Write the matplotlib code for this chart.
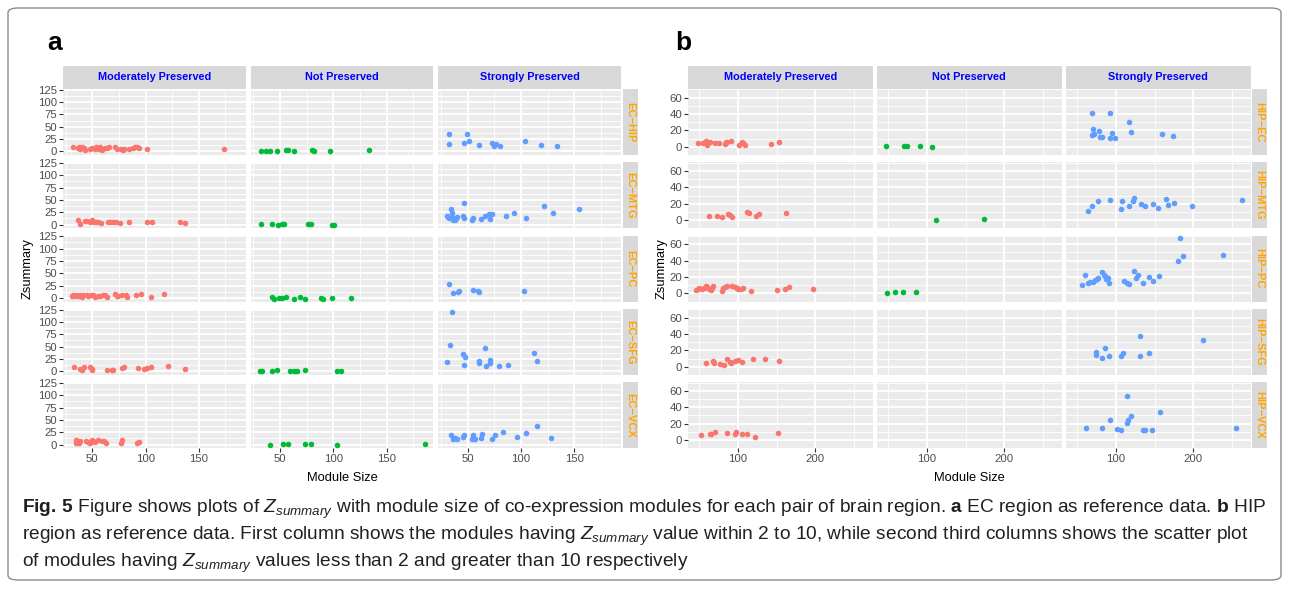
import matplotlib
matplotlib.use("Agg")
import matplotlib.pyplot as plt
from matplotlib import font_manager as fm
from matplotlib.patches import FancyBboxPatch

# ---------------- data ----------------
CATEGORIES = ["Moderately Preserved", "Not Preserved", "Strongly Preserved"]
CAT_COLORS = ["#F8766D", "#00BA38", "#619CFF"]
A_PAIRS = ["EC\u2212HIP", "EC\u2212MTG", "EC\u2212PC", "EC\u2212SFG", "EC\u2212VCX"]
B_PAIRS = ["HIP\u2212EC", "HIP\u2212MTG", "HIP\u2212PC", "HIP\u2212SFG", "HIP\u2212VCX"]
A_YTICKS = [0, 25, 50, 75, 100, 125]
A_XTICKS = [50, 100, 150]
B_YTICKS = [0, 20, 40, 60]
B_XTICKS = [100, 200]

# ---- panel a : EC as reference ----
a_hip_mod_x = [31.7, 36.1, 37.4, 38.6, 40.5, 41.8, 43.1, 47.8, 49.4, 52.5, 53.8, 55.0, 56.3, 57.6, 58.8, 62.0, 63.9, 65.8, 71.5, 73.3, 76.5, 78.4, 79.7, 84.7, 87.9, 89.7, 91.6, 94.2, 101.7, 173.7]
a_hip_mod_y = [8.0, 6.6, 9.3, 5.3, 8.6, 6.6, 2.7, 4.7, 6.6, 4.7, 9.3, 6.6, 4.7, 8.0, 3.3, 6.6, 6.6, 8.0, 8.0, 5.3, 5.3, 2.7, 4.0, 4.7, 6.6, 9.3, 9.3, 6.6, 5.3, 4.0]
a_hip_not_x = [32.1, 37.1, 40.9, 47.2, 55.3, 57.9, 62.9, 79.9, 81.8, 96.9, 133.3]
a_hip_not_y = [0.0, 0.7, 0.7, 1.3, 2.0, 2.0, 1.3, 2.0, 1.3, 1.3, 2.7]
a_hip_str_x = [32.1, 49.1, 32.1, 46.5, 50.9, 61.0, 72.3, 74.2, 76.7, 79.9, 103.8, 118.9, 134.0]
a_hip_str_y = [34.6, 35.2, 14.6, 16.0, 20.0, 12.0, 17.3, 10.6, 14.6, 10.6, 20.6, 12.6, 10.6]

a_mtg_mod_x = [36.8, 38.1, 43.1, 45.0, 48.1, 49.4, 51.3, 53.2, 55.7, 58.2, 64.5, 67.0, 68.9, 72.1, 75.9, 84.7, 101.1, 105.8, 132.0, 136.8]
a_mtg_mod_y = [10.0, 2.0, 6.6, 7.3, 4.7, 8.6, 6.0, 6.0, 4.7, 3.3, 4.7, 6.0, 6.0, 6.0, 4.0, 6.0, 4.7, 6.0, 4.7, 3.3]
a_mtg_not_x = [32.1, 42.1, 47.8, 52.2, 54.1, 76.1, 79.2, 98.7, 100.6]
a_mtg_not_y = [0.7, 2.0, -0.7, 2.0, 2.0, 0.7, 2.0, -0.7, -0.7]
a_mtg_str_x = [30.2, 31.4, 32.7, 34.0, 34.6, 35.2, 35.8, 37.1, 37.7, 39.0, 40.3, 45.3, 46.5, 46.5, 54.1, 55.3, 62.3, 66.0, 69.8, 70.4, 72.3, 86.2, 93.7, 105.0, 122.0, 130.2, 154.1]
a_mtg_str_y = [18.0, 15.3, 14.0, 31.3, 12.6, 24.6, 10.0, 14.0, 8.6, 12.6, 15.3, 18.0, 14.0, 44.5, 10.0, 14.0, 11.3, 16.6, 21.9, 11.3, 20.6, 16.6, 24.6, 14.0, 37.9, 24.6, 31.9]

a_pc_mod_x = [30.4, 31.7, 33.0, 34.9, 36.8, 38.6, 39.9, 41.2, 45.0, 46.2, 48.7, 50.6, 52.5, 55.0, 56.9, 60.1, 62.0, 63.9, 70.8, 72.7, 74.0, 77.8, 81.5, 82.2, 91.0, 96.1, 104.9, 116.9]
a_pc_mod_y = [4.0, 6.6, 4.0, 5.3, 4.0, 5.3, 2.7, 5.3, 6.6, 4.0, 5.3, 6.6, 2.7, 4.0, 4.0, 6.6, 5.3, 2.0, 8.0, 4.0, 4.0, 6.6, 5.3, 2.0, 5.3, 8.0, 2.7, 8.0]
a_pc_not_x = [42.1, 44.7, 49.1, 52.2, 55.3, 62.9, 68.6, 73.0, 88.7, 90.6, 98.7, 116.4]
a_pc_not_y = [1.3, -1.3, 0.7, 0.0, 1.3, -1.3, 1.3, -1.3, 0.0, -1.3, 0.7, 0.7]
a_pc_str_x = [32.1, 36.5, 40.9, 42.1, 55.3, 59.7, 61.0, 103.1]
a_pc_str_y = [27.3, 9.3, 12.0, 13.3, 16.6, 14.6, 12.0, 13.3]

a_sfg_mod_x = [33.0, 38.6, 39.9, 41.8, 47.5, 49.4, 50.0, 63.9, 68.3, 68.9, 77.8, 79.7, 92.9, 98.6, 101.7, 104.9, 121.0, 136.8]
a_sfg_mod_y = [9.3, 5.3, 2.7, 8.0, 9.3, 5.3, 2.7, 2.7, 2.7, 3.3, 6.6, 9.3, 6.6, 5.3, 6.6, 8.0, 10.6, 4.0]
a_sfg_not_x = [31.4, 33.3, 42.1, 47.2, 59.7, 62.9, 66.0, 73.0, 103.1, 106.9]
a_sfg_not_y = [1.3, 1.3, 0.7, 2.0, 0.0, 0.7, 0.7, 2.0, 0.7, 0.7]
a_sfg_str_x = [35.2, 33.3, 45.3, 47.2, 66.0, 30.2, 46.5, 60.4, 60.4, 67.3, 71.1, 71.1, 79.2, 87.4, 112.0, 115.1]
a_sfg_str_y = [120.3, 52.5, 34.6, 27.9, 46.5, 18.0, 13.3, 19.9, 16.0, 11.3, 22.6, 16.0, 11.3, 13.3, 36.6, 20.6]

a_vcx_mod_x = [34.2, 34.9, 36.1, 37.4, 38.6, 44.3, 46.2, 48.1, 49.4, 50.6, 52.5, 55.0, 58.8, 60.7, 62.6, 76.5, 77.8, 92.3, 93.5]
a_vcx_mod_y = [9.3, 2.7, 6.6, 4.0, 6.6, 6.6, 5.3, 4.0, 9.3, 6.6, 5.3, 9.3, 6.6, 6.6, 4.0, 2.7, 9.3, 2.7, 5.3]
a_vcx_not_x = [40.9, 52.8, 57.9, 73.6, 78.6, 103.8, 186.2]
a_vcx_not_y = [0.0, 2.0, 2.0, 1.3, 0.7, 0.0, 0.7]
a_vcx_str_x = [34.0, 35.8, 38.4, 39.6, 45.3, 46.5, 53.5, 54.7, 56.0, 57.2, 62.3, 63.5, 73.0, 75.5, 83.0, 96.2, 105.0, 115.1, 128.3]
a_vcx_str_y = [19.9, 12.0, 13.3, 12.0, 14.6, 18.6, 12.0, 18.6, 10.6, 12.0, 13.3, 21.3, 12.0, 18.6, 25.3, 14.6, 23.9, 37.2, 13.3]

# ---- panel b : HIP as reference ----
b_ec_mod_x = [48.9, 54.9, 57.5, 59.2, 60.9, 64.4, 70.4, 75.5, 83.3, 85.0, 85.8, 91.8, 102.1, 105.6, 107.3, 109.9, 143.3, 152.8]
b_ec_mod_y = [4.5, 4.9, 5.7, 7.2, 2.6, 5.7, 4.2, 4.9, 3.4, 5.7, 6.4, 7.5, 2.6, 6.4, 4.2, 1.9, 3.4, 6.0]
b_ec_not_x = [47.2, 71.0, 74.1, 91.7, 106.2]
b_ec_not_y = [1.1, 1.1, 0.4, 0.4, -0.8]
b_ec_str_x = [68.8, 93.1, 117.3, 70.6, 78.4, 69.7, 72.3, 80.1, 81.8, 93.1, 94.8, 99.1, 119.0, 158.9, 173.6]
b_ec_str_y = [41.9, 40.8, 30.9, 21.5, 19.6, 14.7, 16.2, 11.7, 11.7, 10.9, 16.6, 10.6, 18.1, 15.5, 13.2]

b_mtg_mod_x = [62.7, 73.0, 79.8, 87.6, 89.3, 92.7, 112.4, 114.2, 123.6, 127.9, 161.8]
b_mtg_mod_y = [4.5, 4.9, 3.8, 7.2, 6.4, 3.8, 9.4, 8.7, 5.3, 7.9, 8.7]
b_mtg_not_x = [111.4, 173.1]
b_mtg_not_y = [-0.4, 1.5]
b_mtg_str_x = [64.5, 68.8, 76.6, 93.1, 106.9, 107.8, 116.5, 122.5, 123.4, 132.9, 137.2, 147.6, 154.5, 164.9, 166.7, 175.3, 197.8, 262.8]
b_mtg_str_y = [11.3, 17.4, 23.8, 24.9, 13.2, 23.4, 17.4, 23.0, 27.2, 19.2, 17.7, 19.2, 14.7, 26.0, 18.9, 20.8, 17.4, 24.9]

b_pc_mod_x = [46.6, 48.1, 49.8, 54.1, 56.7, 58.4, 60.9, 63.5, 65.2, 67.0, 67.8, 79.0, 80.7, 83.3, 85.8, 92.7, 97.0, 98.7, 100.4, 103.9, 106.4, 117.6, 151.1, 161.4, 166.5, 197.4]
b_pc_mod_y = [4.2, 5.7, 7.2, 4.9, 7.2, 8.7, 7.9, 5.7, 4.2, 6.4, 8.7, 3.4, 6.4, 7.9, 8.7, 9.4, 7.9, 7.2, 4.9, 4.9, 7.2, 3.4, 4.2, 4.9, 7.5, 5.3]
b_pc_not_x = [48.2, 58.5, 69.4, 86.5]
b_pc_not_y = [0.0, 1.5, 2.2, 1.5]
b_pc_str_x = [183.1, 186.6, 237.7, 179.7, 60.2, 56.7, 63.6, 67.1, 70.6, 73.2, 75.8, 77.5, 82.7, 84.4, 86.1, 87.9, 89.6, 91.3, 110.4, 114.7, 117.3, 123.4, 126.0, 128.6, 135.5, 142.4, 148.5, 155.4]
b_pc_str_y = [67.2, 45.3, 47.2, 39.6, 23.0, 10.2, 12.5, 14.0, 13.6, 16.2, 17.7, 19.2, 26.0, 22.3, 20.8, 17.0, 19.2, 12.8, 15.1, 12.5, 11.7, 27.2, 19.2, 22.3, 12.5, 20.0, 14.7, 21.1]

b_sfg_mod_x = [58.4, 67.8, 69.5, 76.4, 82.4, 85.8, 89.3, 91.0, 96.1, 99.6, 105.6, 120.2, 134.8, 152.8]
b_sfg_mod_y = [4.2, 6.4, 4.9, 3.4, 2.6, 9.1, 5.7, 4.9, 7.2, 7.9, 5.7, 9.1, 9.4, 6.8]
b_sfg_not_x = []
b_sfg_not_y = []
b_sfg_str_x = [131.2, 212.6, 86.1, 74.0, 74.9, 81.8, 91.3, 106.9, 108.7, 131.2, 143.3]
b_sfg_str_y = [38.1, 33.2, 22.3, 17.7, 14.7, 10.6, 12.8, 13.2, 17.0, 12.5, 16.2]

b_vcx_mod_x = [52.4, 64.4, 65.2, 71.2, 86.7, 96.1, 97.9, 105.6, 112.4, 121.9, 151.9]
b_vcx_mod_y = [5.7, 7.9, 7.2, 10.2, 8.3, 7.9, 9.4, 7.5, 7.5, 4.2, 9.1]
b_vcx_not_x = []
b_vcx_not_y = []
b_vcx_str_x = [113.9, 157.1, 92.2, 119.0, 115.6, 114.7, 61.0, 81.8, 101.7, 106.1, 135.5, 138.1, 146.8, 255.0]
b_vcx_str_y = [53.2, 33.6, 24.5, 29.1, 24.5, 20.8, 14.7, 14.7, 14.0, 11.7, 11.7, 11.7, 11.7, 14.7]

A_DATA = [
    [(a_hip_mod_x, a_hip_mod_y), (a_hip_not_x, a_hip_not_y), (a_hip_str_x, a_hip_str_y)],
    [(a_mtg_mod_x, a_mtg_mod_y), (a_mtg_not_x, a_mtg_not_y), (a_mtg_str_x, a_mtg_str_y)],
    [(a_pc_mod_x, a_pc_mod_y), (a_pc_not_x, a_pc_not_y), (a_pc_str_x, a_pc_str_y)],
    [(a_sfg_mod_x, a_sfg_mod_y), (a_sfg_not_x, a_sfg_not_y), (a_sfg_str_x, a_sfg_str_y)],
    [(a_vcx_mod_x, a_vcx_mod_y), (a_vcx_not_x, a_vcx_not_y), (a_vcx_str_x, a_vcx_str_y)],
]
B_DATA = [
    [(b_ec_mod_x, b_ec_mod_y), (b_ec_not_x, b_ec_not_y), (b_ec_str_x, b_ec_str_y)],
    [(b_mtg_mod_x, b_mtg_mod_y), (b_mtg_not_x, b_mtg_not_y), (b_mtg_str_x, b_mtg_str_y)],
    [(b_pc_mod_x, b_pc_mod_y), (b_pc_not_x, b_pc_not_y), (b_pc_str_x, b_pc_str_y)],
    [(b_sfg_mod_x, b_sfg_mod_y), (b_sfg_not_x, b_sfg_not_y), (b_sfg_str_x, b_sfg_str_y)],
    [(b_vcx_mod_x, b_vcx_mod_y), (b_vcx_not_x, b_vcx_not_y), (b_vcx_str_x, b_vcx_str_y)],
]

CAPTION_LINES = [
    r"$\mathbf{Fig.\,5}$ Figure shows plots of $Z_{summary}$ with module size of co-expression modules for each pair of brain region. $\mathbf{a}$ EC region as reference data. $\mathbf{b}$ HIP",
    r"region as reference data. First column shows the modules having $Z_{summary}$ value within 2 to 10, while second third columns shows the scatter plot",
    r"of modules having $Z_{summary}$ values less than 2 and greater than 10 respectively",
]

# ---------------- fonts ----------------
names = {f.name for f in fm.fontManager.ttflist}
NARROW = "Liberation Sans Narrow" if "Liberation Sans Narrow" in names else "Liberation Sans"
plt.rcParams["font.family"] = [NARROW, "DejaVu Sans"]
plt.rcParams["mathtext.fontset"] = "custom"
plt.rcParams["mathtext.rm"] = NARROW
plt.rcParams["mathtext.it"] = NARROW + ":italic"
plt.rcParams["mathtext.bf"] = NARROW + ":bold"

W, H = 1289, 589
fig = plt.figure(figsize=(W / 100, H / 100), dpi=100)
fig.patch.set_facecolor("white")


def box(l, t, r, b):
    return [l / W, 1 - b / H, (r - l) / W, (b - t) / H]


# outer rounded frame
frame = FancyBboxPatch((8 / W, 1 - 580 / H), (1281 - 8) / W, (580 - 8) / H,
                       boxstyle="round,pad=0,rounding_size=0.008",
                       transform=fig.transFigure, facecolor="none",
                       edgecolor="#8c8c8c", linewidth=1.0)
fig.patches.append(frame)

ROW_TOP0 = 89.0
ROW_H = 66.0
ROW_PITCH = 73.3
STRIP_H = 23.0
TICK_GREY = "#4D4D4D"


def expand(vals):
    lo, hi = min(vals), max(vals)
    pad = 0.05 * (hi - lo)
    return lo - pad, hi + pad


def draw_block(data, pairs, x0, col_w, col_gap, xticks, yticks, xminor, yminor):
    allx = [v for row in data for (xs, ys) in row for v in xs]
    ally = [v for row in data for (xs, ys) in row for v in ys]
    xlim = expand(allx)
    ylim = expand(ally)
    right_edge = x0 + 3 * col_w + 2 * col_gap
    for c, cat in enumerate(CATEGORIES):
        l = x0 + c * (col_w + col_gap)
        sax = fig.add_axes(box(l, ROW_TOP0 - STRIP_H, l + col_w, ROW_TOP0))
        sax.set_facecolor("#D9D9D9")
        sax.set_xticks([]); sax.set_yticks([])
        for sp in sax.spines.values():
            sp.set_visible(False)
        sax.text(0.5, 0.5, cat, ha="center", va="center", color="#0000FF",
                 fontsize=7.8, fontweight="bold", transform=sax.transAxes)
    for r, pair in enumerate(pairs):
        t = ROW_TOP0 + r * ROW_PITCH
        b = t + ROW_H
        rax = fig.add_axes(box(right_edge + 1.5, t, right_edge + 16.5, b))
        rax.set_facecolor("#D9D9D9")
        rax.set_xticks([]); rax.set_yticks([])
        for sp in rax.spines.values():
            sp.set_visible(False)
        rax.text(0.5, 0.5, pair, ha="center", va="center", rotation=-90,
                 color="#FFA500", fontsize=8.0, fontweight="bold",
                 transform=rax.transAxes)
        for c in range(3):
            l = x0 + c * (col_w + col_gap)
            ax = fig.add_axes(box(l, t, l + col_w, b))
            ax.set_facecolor("#EBEBEB")
            for sp in ax.spines.values():
                sp.set_visible(False)
            ax.set_xlim(*xlim)
            ax.set_ylim(*ylim)
            ax.set_xticks(xticks)
            ax.set_yticks(yticks)
            ax.set_xticks(xminor, minor=True)
            ax.set_yticks(yminor, minor=True)
            ax.grid(which="major", color="white", linewidth=1.3)
            ax.grid(which="minor", color="white", linewidth=0.6)
            ax.set_axisbelow(True)
            ax.tick_params(which="minor", length=0)
            ax.tick_params(which="major", color="#333333", width=0.8, length=2.6,
                           labelsize=8.2, labelcolor=TICK_GREY, pad=1.5)
            if c != 0:
                ax.tick_params(axis="y", length=0, labelleft=False)
            if r != len(pairs) - 1:
                ax.tick_params(axis="x", length=0, labelbottom=False)
            xs, ys = data[r][c]
            ax.scatter(xs, ys, s=16, color=CAT_COLORS[c], linewidths=0, zorder=3,
                       clip_on=False)
    mid_x = (x0 + right_edge) / 2
    fig.text(mid_x / W, 1 - 478 / H, "Module Size", ha="center", va="center",
             fontsize=9.3, color="black")


draw_block(A_DATA, A_PAIRS, 63.0, 182.7, 5.0, A_XTICKS, A_YTICKS,
           [25, 75, 125, 175], [12.5, 37.5, 62.5, 87.5, 112.5])
draw_block(B_DATA, B_PAIRS, 688.0, 184.5, 4.5, B_XTICKS, B_YTICKS,
           [50, 150, 250], [10, 30, 50, -10, 70])

mid_y = ROW_TOP0 + (4 * ROW_PITCH + ROW_H) / 2
fig.text(28 / W, 1 - mid_y / H, "Zsummary", rotation=90, ha="center", va="center",
         fontsize=9.3, color="black")
fig.text(662 / W, 1 - mid_y / H, "Zsummary", rotation=90, ha="center", va="center",
         fontsize=9.3, color="black")

fig.text(55 / W, 1 - 43 / H, "a", ha="center", va="center", fontsize=19,
         fontweight="bold", family="Liberation Sans", color="black")
fig.text(683 / W, 1 - 43 / H, "b", ha="center", va="center", fontsize=19,
         fontweight="bold", family="Liberation Sans", color="black")

# caption, fitted to the reference line width
renderer = fig.canvas.get_renderer()
probe = fig.text(22 / W, 0.5, CAPTION_LINES[0], fontsize=12)
wpx = probe.get_window_extent(renderer).width
probe.remove()
cap_size = 12 * (1262 - 22) / wpx
for i, (line, yc) in enumerate(zip(CAPTION_LINES, [509, 536, 563])):
    txt = fig.text(22 / W, 1 - yc / H, line, ha="left", va="center",
                   fontsize=cap_size, color="#231F20")
    if i == 1:
        w2 = txt.get_window_extent(renderer).width
        txt.set_fontsize(cap_size * (1262 - 22) / w2 if w2 > (1262 - 22) else cap_size)

fig.savefig("out.png", dpi=100, facecolor="white")
